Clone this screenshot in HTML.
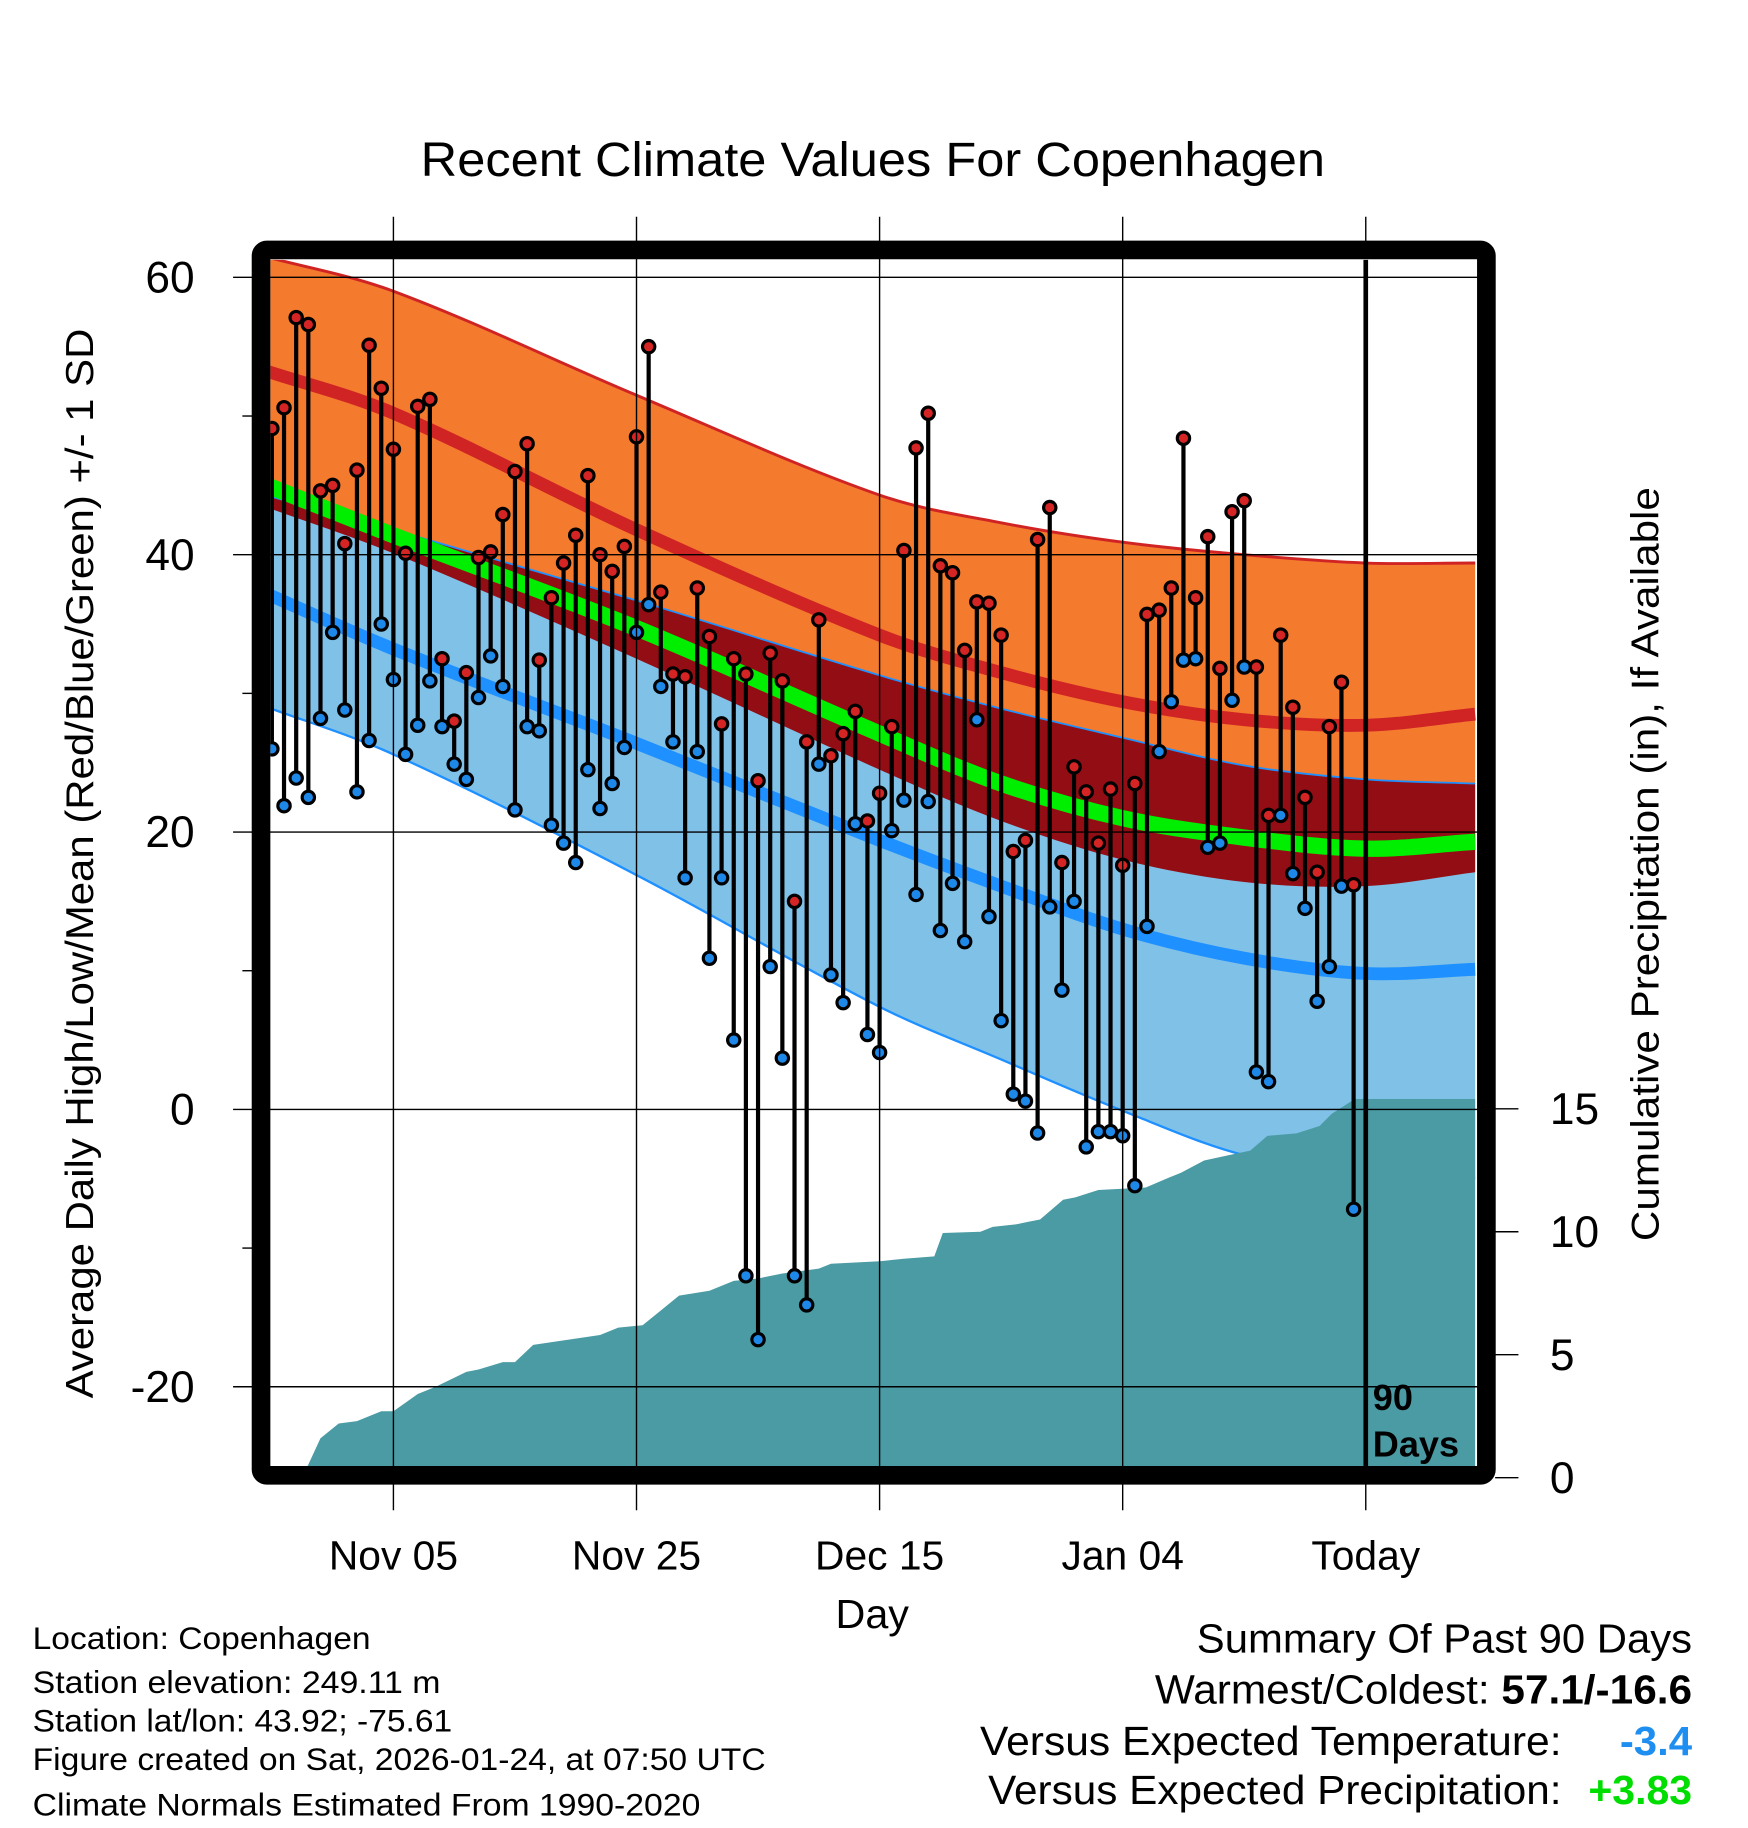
<!DOCTYPE html>
<html><head><meta charset="utf-8"><title>Recent Climate Values For Copenhagen</title>
<style>html,body{margin:0;padding:0;background:#fff}svg{display:block;font-family:"Liberation Sans",Arial,sans-serif}</style>
</head><body>
<svg id="chart" width="1748" height="1828" viewBox="0 0 1500 1568.65" xmlns="http://www.w3.org/2000/svg">
<text x="361" y="151" font-size="41" textLength="776" lengthAdjust="spacingAndGlyphs">Recent Climate Values For Copenhagen</text>
<defs><clipPath id="pc"><rect x="232" y="223" width="1036" height="1035"/></clipPath></defs>
<g id="plot" clip-path="url(#pc)"></g>
<g id="axes"></g>
<rect x="224" y="214.5" width="1051.5" height="1051.5" rx="5" fill="none" stroke="#000" stroke-width="16"/>
<text transform="translate(80,1200) rotate(-90)" font-size="33" textLength="918" lengthAdjust="spacingAndGlyphs">Average Daily High/Low/Mean (Red/Blue/Green) +/- 1 SD</text>
<text transform="translate(1423,1065) rotate(-90)" font-size="33" textLength="647" lengthAdjust="spacingAndGlyphs">Cumulative Precipitation (in), If Available</text>
<text x="717" y="1397" font-size="35" textLength="63" lengthAdjust="spacingAndGlyphs">Day</text>
<g font-size="27">
<text x="28" y="1415" textLength="290" lengthAdjust="spacingAndGlyphs">Location: Copenhagen</text>
<text x="28" y="1453" textLength="350" lengthAdjust="spacingAndGlyphs">Station elevation: 249.11 m</text>
<text x="28" y="1486" textLength="360" lengthAdjust="spacingAndGlyphs">Station lat/lon: 43.92; -75.61</text>
<text x="28" y="1519" textLength="629" lengthAdjust="spacingAndGlyphs">Figure created on Sat, 2026-01-24, at 07:50 UTC</text>
<text x="28" y="1558" textLength="573" lengthAdjust="spacingAndGlyphs">Climate Normals Estimated From 1990-2020</text>
</g>
<g font-size="35">
<text x="1027" y="1418" textLength="425" lengthAdjust="spacingAndGlyphs">Summary Of Past 90 Days</text>
<text x="991" y="1462" textLength="461" lengthAdjust="spacingAndGlyphs">Warmest/Coldest: <tspan font-weight="bold">57.1/-16.6</tspan></text>
<text x="841" y="1506" textLength="499" lengthAdjust="spacingAndGlyphs">Versus Expected Temperature:</text>
<text x="1390" y="1506" font-weight="bold" fill="#1e8ff0" textLength="62" lengthAdjust="spacingAndGlyphs">-3.4</text>
<text x="848" y="1548" textLength="492" lengthAdjust="spacingAndGlyphs">Versus Expected Precipitation:</text>
<text x="1363" y="1548" font-weight="bold" fill="#00dd00" textLength="89" lengthAdjust="spacingAndGlyphs">+3.83</text>
</g>
</svg>
<script>
const days = [];for(let d=-90;d<=-1;d++)days.push(d);
const highs=[49.1,50.6,57.1,56.6,44.6,45,40.8,46.1,55.1,52,47.6,40.1,50.7,51.2,32.5,28,31.5,39.8,40.2,42.9,46,48,32.4,36.9,39.4,41.4,45.7,40,38.8,40.6,48.5,55,37.3,31.4,31.2,37.6,34.1,27.8,32.5,31.4,23.7,32.9,30.9,15,26.5,35.3,25.5,27.1,28.7,20.8,22.8,27.6,40.3,47.7,50.2,39.2,38.7,33.1,36.6,36.5,34.2,18.6,19.4,41.1,43.4,17.8,24.7,22.9,19.2,23.1,17.6,23.5,35.7,36,37.6,48.4,36.9,41.3,31.8,43.1,43.9,31.9,21.2,34.2,29,22.5,17.1,27.6,30.8,16.2];
const lows=[26,21.9,23.9,22.5,28.2,34.4,28.8,22.9,26.6,35,31,25.6,27.7,30.9,27.6,24.9,23.8,29.7,32.7,30.5,21.6,27.6,27.3,20.5,19.2,17.8,24.5,21.7,23.5,26.1,34.4,36.4,30.5,26.5,16.7,25.8,10.9,16.7,5,-12,-16.6,10.3,3.7,-12,-14.1,24.9,9.7,7.7,20.6,5.4,4.1,20.1,22.3,15.5,22.2,12.9,16.3,12.1,28.1,13.9,6.4,1.1,0.6,-1.7,14.6,8.6,15,-2.7,-1.6,-1.6,-1.9,-5.5,13.2,25.8,29.4,32.4,32.5,18.9,19.2,29.5,31.9,2.7,2,21.2,17,14.5,7.8,10.3,16.1,-7.2];
const normDays=[-91,-80,-60,-40,-30,-20,-10,0,9];
const upperLine=[61.6,59.0,51.5,44.3,42.3,40.9,40.0,39.4,39.4];
const normHigh=[53.4,50.2,41.8,34.2,31.5,29.4,28.1,27.7,28.5];
const sdUpperBlue=[44.4,41.8,36.7,31.3,28.9,26.8,24.8,23.8,23.5];
const normMean=[45.2,41.4,34.7,27.1,23.5,21.0,19.6,18.8,19.3];
const darkRedBottom=[43.6,40.1,32.5,24.5,20.8,18.0,16.4,16.1,17.1];
const normLow=[37.4,33.2,26.4,19.4,16.1,13.0,10.9,9.8,10.1];
const lowerLine=[29.2,25.6,16.9,7.4,3.6,-0.1,-3.3,-4.5,-5.0];
const precipDays=[-87.5,-86,-84.5,-83,-81,-80,-78,-76.5,-74,-73,-71,-70,-68.5,-63,-61.5,-59.5,-58,-56.5,-54,-52,-50,-48,-45,-44,-40,-38,-35.5,-34.8,-31.7,-30.7,-28.8,-27.8,-26.8,-24.9,-23.9,-22,-18.1,-16.2,-15.2,-13.3,-11.4,-9.5,-8.1,-5.7,-3.8,-2.8,-0.9,9];
const precipVals=[0,1.6,2.2,2.3,2.7,2.7,3.4,3.7,4.3,4.4,4.7,4.7,5.4,5.8,6.1,6.2,6.8,7.4,7.6,8,8.1,8.3,8.5,8.7,8.8,8.9,9,9.95,10,10.2,10.3,10.4,10.5,11.3,11.4,11.7,11.8,12.2,12.4,12.9,13.1,13.3,13.9,14.0,14.3,14.8,15.4,15.4];
const yTicks=[60,40,20,0,-20];
const yMinor=[50,30,10,-10];
const pTicks=[0,5,10,15];
const xTickDays=[-80,-60,-40,-20,0];
const xTickLabels=["Nov 05","Nov 25","Dec 15","Jan 04","Today"];

const X=d=>1172+d*10.43;
const Y=t=>952-t*11.9;
const P=p=>1268-p*21.1;
const NS="http://www.w3.org/2000/svg";
function mk(tag,attrs,parent){const e=document.createElementNS(NS,tag);for(const k in attrs)e.setAttribute(k,attrs[k]);parent.appendChild(e);return e;}
function smooth(xs,ys){
  const pts=xs.map((d,i)=>[X(d),Y(ys[i])]);let s="M"+pts[0][0]+","+pts[0][1];
  for(let i=0;i<pts.length-1;i++){const p0=pts[Math.max(0,i-1)],p1=pts[i],p2=pts[i+1],p3=pts[Math.min(pts.length-1,i+2)];
    const h=p2[0]-p1[0];
    const m1=(p2[1]-p0[1])/(p2[0]-p0[0]||1), m2=(p3[1]-p1[1])/(p3[0]-p1[0]||1);
    s+=` C${p1[0]+h/3},${p1[1]+m1*h/3} ${p2[0]-h/3},${p2[1]-m2*h/3} ${p2[0]},${p2[1]}`;}
  return s;}
function rev(xs,ys){return smooth(xs.slice().reverse(),ys.slice().reverse()).replace(/^M/,"L");}
function band(a,b){return smooth(normDays,a)+" "+rev(normDays,b)+" Z";}
const plot=document.getElementById('plot'),axes=document.getElementById('axes');
let e;
e=mk('path',{d:band(upperLine,sdUpperBlue),fill:'#f47a2e'},plot);


e=mk('path',{d:band(sdUpperBlue,lowerLine),fill:'#80c1e8'},plot);


e=mk('path',{d:band(sdUpperBlue,darkRedBottom),fill:'#930e14'},plot);


e=mk('path',{d:smooth(normDays,upperLine),fill:'none',stroke:'#d02424','stroke-width':2.5},plot);


e=mk('path',{d:smooth(normDays,sdUpperBlue),fill:'none',stroke:'#1e90ff','stroke-width':1.5},plot);


e=mk('path',{d:smooth(normDays,lowerLine),fill:'none',stroke:'#1e90ff','stroke-width':2},plot);


e=mk('path',{d:smooth(normDays,normHigh),fill:'none',stroke:'#d02424','stroke-width':11},plot);


e=mk('path',{d:smooth(normDays,normMean),fill:'none',stroke:'#00ee00','stroke-width':14},plot);


e=mk('path',{d:smooth(normDays,normLow),fill:'none',stroke:'#1e90ff','stroke-width':11},plot);


let pd="M"+X(precipDays[0])+","+P(0);
precipDays.forEach((d,i)=>{pd+=" L"+X(d)+","+P(precipVals[i]);});
pd+=" L"+X(precipDays[precipDays.length-1])+","+P(-2)+" L"+X(precipDays[0])+","+P(-2)+" Z";
e=mk('path',{d:pd,fill:'#4a9ba4'},plot);


yTicks.forEach(t=>{e=mk('line',{x1:200,x2:1275,y1:Y(t),y2:Y(t),stroke:'#000','stroke-width':1.2},axes);


e=mk('text',{x:167,y:Y(t)+13,'font-size':38,'text-anchor':'end'},axes);e.textContent=t;

});
yMinor.forEach(t=>{e=mk('line',{x1:208,x2:220,y1:Y(t),y2:Y(t),stroke:'#000','stroke-width':1.2},axes);

});
xTickDays.forEach((d,i)=>{
 if(d<0){e=mk('line',{x1:X(d),x2:X(d),y1:186,y2:1258,stroke:'#000','stroke-width':1.2},axes);
 
 }
 else{e=mk('line',{x1:X(d),x2:X(d),y1:186,y2:214,stroke:'#000','stroke-width':1.2},axes);
 
 }
 e=mk('line',{x1:X(d),x2:X(d),y1:1270,y2:1296,stroke:'#000','stroke-width':1.2},axes);
 
 
 e=mk('text',{x:X(d),y:1347,'font-size':35,'text-anchor':'middle'},axes);e.textContent=xTickLabels[i];
 
 });
pTicks.forEach(p=>{e=mk('line',{x1:1283,x2:1303,y1:P(p),y2:P(p),stroke:'#000','stroke-width':1.2},axes);


e=mk('text',{x:1330,y:P(p)+13,'font-size':38},axes);e.textContent=p;

});
e=mk('line',{x1:X(0),x2:X(0),y1:215,y2:1266,stroke:'#000','stroke-width':4},plot);


days.forEach((d,i)=>{
 e=mk('line',{x1:X(d),x2:X(d),y1:Y(highs[i]),y2:Y(lows[i]),stroke:'#000','stroke-width':3.6},plot);
 
 });
days.forEach((d,i)=>{
 e=mk('circle',{cx:X(d),cy:Y(highs[i]),r:5.3,fill:'#d42424',stroke:'#000','stroke-width':2.7},plot);
 
 
 e=mk('circle',{cx:X(d),cy:Y(lows[i]),r:5.3,fill:'#1e88e8',stroke:'#000','stroke-width':2.7},plot);
 
 });
e=mk('text',{x:1178,y:1210,'font-size':31,'font-weight':'bold'},plot);e.textContent='90';


e=mk('text',{x:1178,y:1250,'font-size':31,'font-weight':'bold'},plot);e.textContent='Days';


</script>
</body></html>
